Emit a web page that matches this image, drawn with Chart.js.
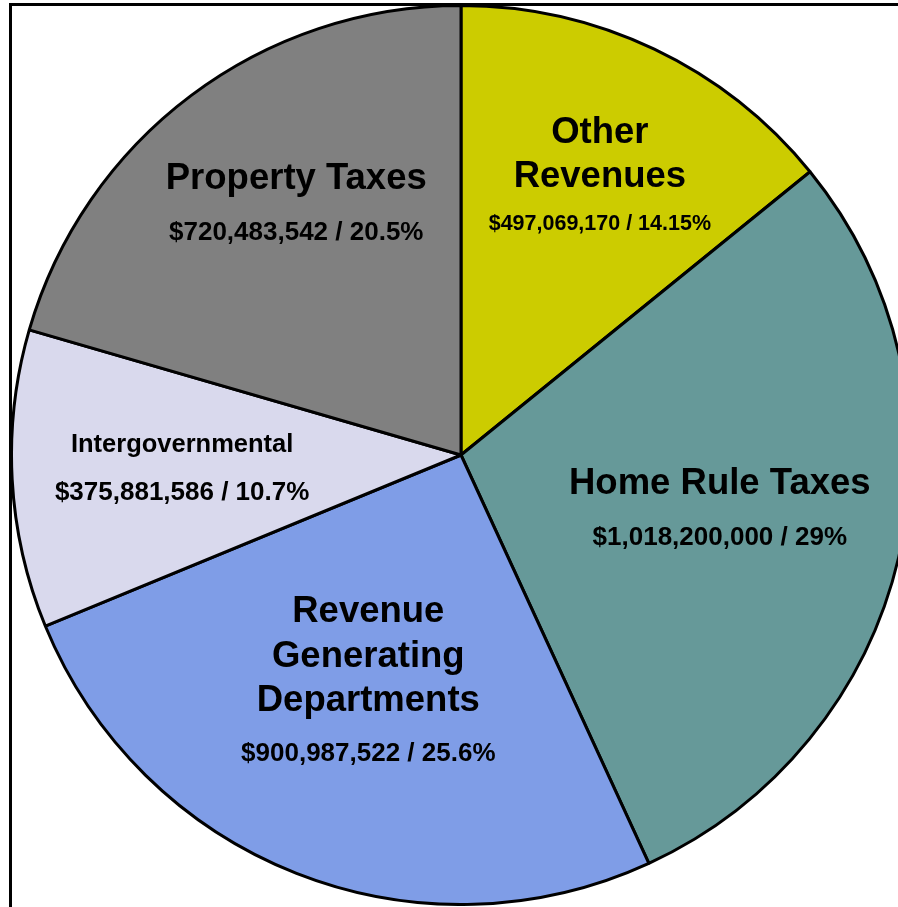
<!DOCTYPE html>
<html>
<head>
<meta charset="utf-8">
<title>Revenue Sources</title>
<script src="https://cdn.jsdelivr.net/npm/chart.js@4/dist/chart.umd.min.js"></script>
<style>
  html, body { margin: 0; padding: 0; background: #fff; overflow: hidden; width: 898px; height: 907px; }
  #frame { position: absolute; left: 9px; top: 3px; width: 1000px; height: 1000px; border-left: 3px solid #000; border-top: 3px solid #000; }
  #pie { position: absolute; left: 10px; top: 4px; }
</style>
</head>
<body>
<div id="frame"></div>
<canvas id="pie" width="902" height="902"></canvas>
<script>
// --- datos ---
const categorias = ['Other Revenues', 'Home Rule Taxes', 'Revenue Generating Departments', 'Intergovernmental', 'Property Taxes'];
const lineasTitulo = [['Other', 'Revenues'], ['Home Rule Taxes'], ['Revenue', 'Generating', 'Departments'], ['Intergovernmental'], ['Property Taxes']];
const montos = [497069170, 1018200000, 900987522, 375881586, 720483542];
const porcentajes = ['14.15%', '29%', '25.6%', '10.7%', '20.5%'];

const colores = ['#CCCC00', '#669999', '#7F9DE7', '#D9D9ED', '#808080'];

// ubicacion de cada etiqueta: radio relativo, ajuste de angulo (grados), tamaños y separacion
const estiloEtiquetas = [
    { rf: 0.693, da: 1.0, ts: 36.5, vs: 21.5, gap: 48.5 },
    { rf: 0.588, da: -1.4, ts: 36.5, vs: 26, gap: 55 },
    { rf: 0.542, da: 0.9, ts: 36.5, vs: 26, gap: 53.5 },
    { rf: 0.621, da: 0.6, ts: 25.5, vs: 26, gap: 48 },
    { rf: 0.669, da: 3.7, ts: 36.5, vs: 26, gap: 54 }
];

const FUENTE = '"Liberation Sans", Arial, sans-serif';
const CAP = 0.358; // mitad de la altura de mayusculas

const pluginEtiquetas = {
    id: 'etiquetasPie',
    afterDatasetsDraw(chart) {
        const ctx = chart.ctx;
        const arcos = chart.getDatasetMeta(0).data;
        ctx.save();
        ctx.fillStyle = '#000';
        ctx.textAlign = 'center';
        ctx.textBaseline = 'alphabetic';
        arcos.forEach((arco, i) => {
            const est = estiloEtiquetas[i];
            const medio = (arco.startAngle + arco.endAngle) / 2 + est.da * Math.PI / 180;
            const r = arco.outerRadius * est.rf;
            const cx = arco.x + Math.cos(medio) * r;
            const cy = arco.y + Math.sin(medio) * r;

            const titulo = lineasTitulo[i];
            const altoLinea = est.ts * 1.22;
            const alto = (titulo.length - 1) * altoLinea + est.gap;
            let y = cy - alto / 2;

            ctx.font = 'bold ' + est.ts + 'px ' + FUENTE;
            titulo.forEach((t, k) => {
                ctx.fillText(t, cx, y + k * altoLinea + est.ts * CAP);
            });
            y += (titulo.length - 1) * altoLinea + est.gap;

            const valor = '$' + montos[i].toLocaleString('en-US') + ' / ' + porcentajes[i];
            ctx.font = 'bold ' + est.vs + 'px ' + FUENTE;
            ctx.fillText(valor, cx, y + est.vs * CAP);
        });
        ctx.restore();
    }
};

new Chart(document.getElementById('pie').getContext('2d'), {
    type: 'pie',
    data: {
        labels: categorias,
        datasets: [{
            data: montos,
            backgroundColor: colores,
            borderColor: '#000',
            borderWidth: 3,
            hoverOffset: 0
        }]
    },
    options: {
        responsive: false,
        animation: false,
        layout: { padding: 0 },
        plugins: {
            legend: { display: false },
            tooltip: { enabled: false }
        }
    },
    plugins: [pluginEtiquetas]
});
</script>
</body>
</html>
